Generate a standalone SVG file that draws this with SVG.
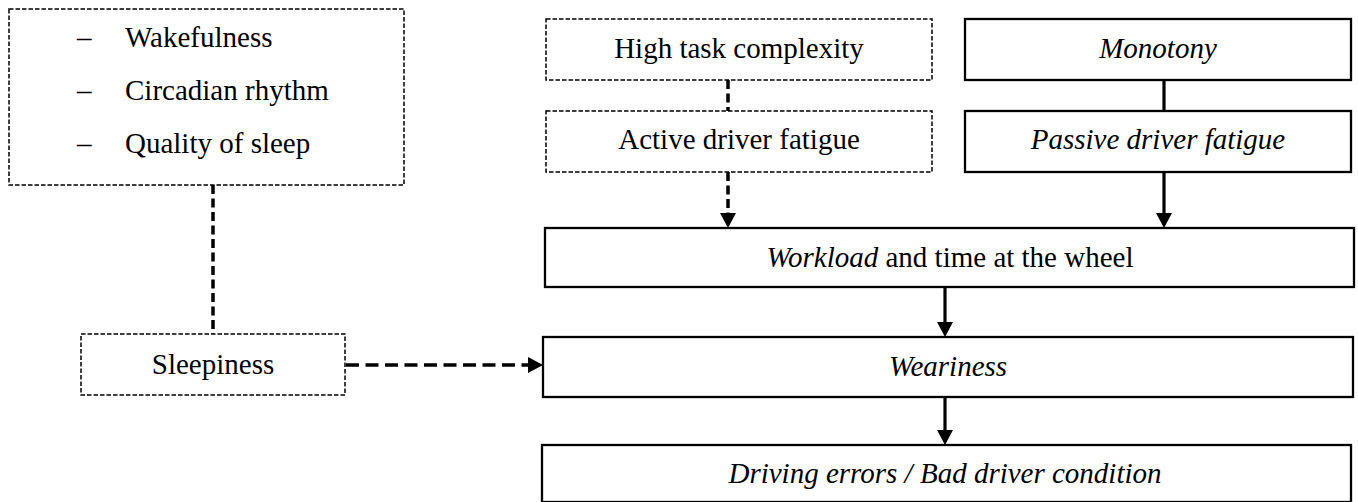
<svg xmlns="http://www.w3.org/2000/svg" width="1358" height="502" viewBox="0 0 1358 502">
  <style>
    text { font-family: "Liberation Serif", "Times New Roman", serif; font-size: 29px; fill: #000; }
    .mid { text-anchor: middle; }
    .it { font-style: italic; }
    .box { fill: #fff; stroke: #000; stroke-width: 2.3; }
    .dbox { fill: #fff; stroke: #000; stroke-width: 1.5; stroke-dasharray: 4.5 2; }
    .solid { stroke: #000; stroke-width: 3.2; fill: none; }
    .dash { stroke: #000; stroke-width: 3.5; fill: none; stroke-dasharray: 9 4.5; }
    .dashw { stroke: #000; stroke-width: 3.5; fill: none; stroke-dasharray: 13 6.5; }
  </style>
  <defs>
    <marker id="arrow" markerUnits="userSpaceOnUse" markerWidth="15" markerHeight="16" refX="0" refY="8" orient="auto">
      <path d="M0,0 L15,8 L0,16 Z" fill="#000"/>
    </marker>
  </defs>
  <rect width="1358" height="502" fill="#fff"/>

  <!-- connectors -->
  <g id="connectors">
    <line class="dash" x1="213" y1="185" x2="213" y2="334"/>
    <line class="dashw" x1="346" y1="365" x2="528" y2="365" marker-end="url(#arrow)"/>
    <line class="dash" x1="728" y1="80" x2="728" y2="111"/>
    <line class="dash" x1="728" y1="172" x2="728" y2="213" marker-end="url(#arrow)"/>
    <line class="solid" x1="1164" y1="80" x2="1164" y2="111"/>
    <line class="solid" x1="1164" y1="172" x2="1164" y2="213" marker-end="url(#arrow)"/>
    <line class="solid" x1="945" y1="287" x2="945" y2="322" marker-end="url(#arrow)"/>
    <line class="solid" x1="945" y1="397" x2="945" y2="430" marker-end="url(#arrow)"/>
  </g>

  <!-- nodes -->
  <g id="factors">
    <rect class="dbox" x="9" y="9" width="395" height="176"/>
    <text x="77" y="47">–</text><text x="125" y="47">Wakefulness</text>
    <text x="77" y="100">–</text><text x="125" y="100">Circadian rhythm</text>
    <text x="77" y="153">–</text><text x="125" y="153">Quality of sleep</text>
  </g>
  <g id="sleepiness">
    <rect class="dbox" x="81" y="334" width="264" height="61"/>
    <text class="mid" x="213" y="374">Sleepiness</text>
  </g>
  <g id="complexity">
    <rect class="dbox" x="546" y="19" width="386" height="61"/>
    <text class="mid" x="739" y="58">High task complexity</text>
  </g>
  <g id="active-fatigue">
    <rect class="dbox" x="546" y="111" width="386" height="61"/>
    <text class="mid" x="739" y="149">Active driver fatigue</text>
  </g>
  <g id="monotony">
    <rect class="box" x="965" y="19" width="386" height="61"/>
    <text class="mid it" x="1158" y="58">Monotony</text>
  </g>
  <g id="passive-fatigue">
    <rect class="box" x="965" y="111" width="386" height="61"/>
    <text class="mid it" x="1158" y="149">Passive driver fatigue</text>
  </g>
  <g id="workload">
    <rect class="box" x="545" y="228" width="809" height="59"/>
    <text class="mid" x="950" y="267"><tspan class="it">Workload</tspan> and time at the wheel</text>
  </g>
  <g id="weariness">
    <rect class="box" x="543" y="337" width="810" height="60"/>
    <text class="mid it" x="948" y="376">Weariness</text>
  </g>
  <g id="driving-errors">
    <rect class="box" x="542" y="445" width="809" height="57"/>
    <text class="mid it" x="945" y="483">Driving errors / Bad driver condition</text>
  </g>
</svg>
